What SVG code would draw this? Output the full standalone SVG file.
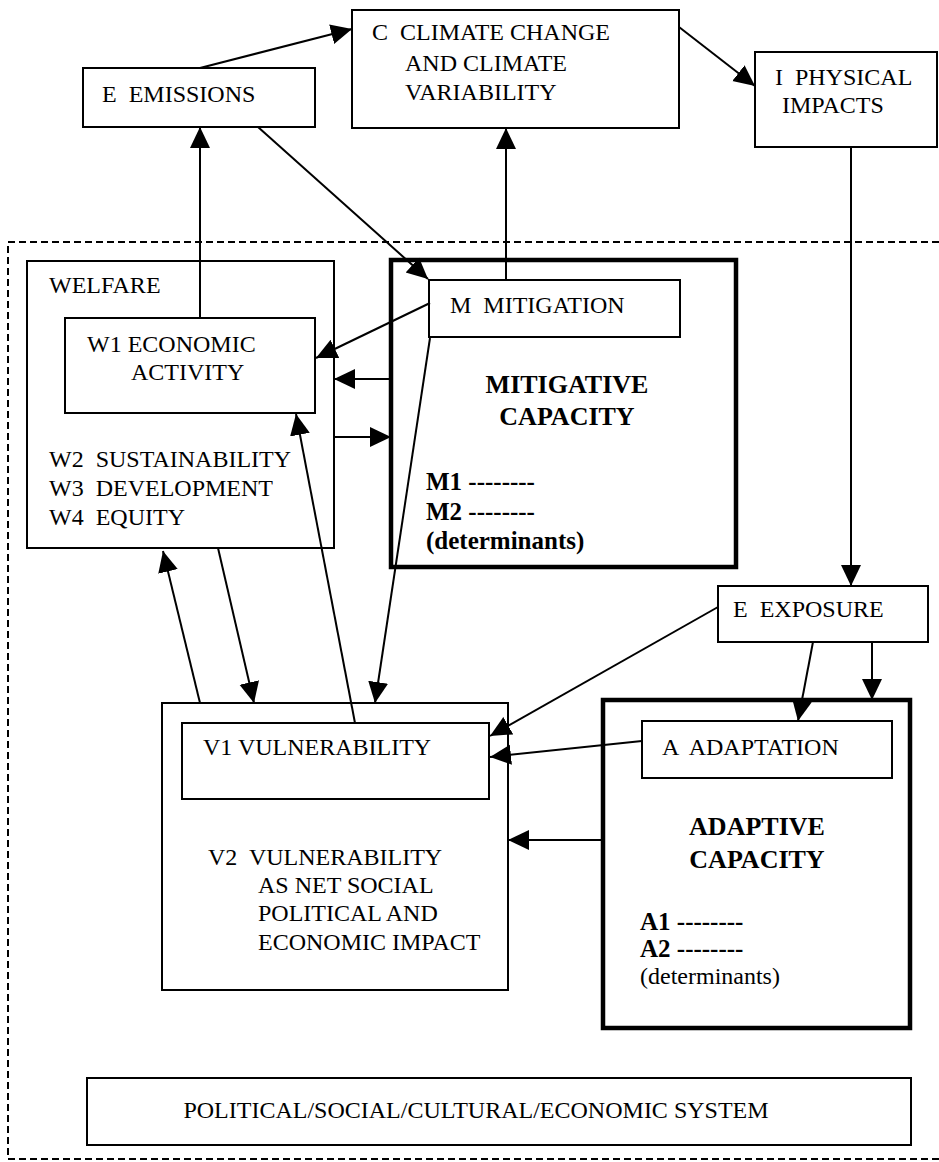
<svg xmlns="http://www.w3.org/2000/svg" width="939" height="1162" viewBox="0 0 939 1162" xml:space="preserve">
<defs>
<style>
text{white-space:pre}
.box{fill:none;stroke:#000;stroke-width:2}
.thick{fill:none;stroke:#000;stroke-width:4.5}
.t{font-family:"Liberation Serif","Times New Roman",serif;font-size:24px;fill:#000}
.b{font-family:"Liberation Serif","Times New Roman",serif;font-size:26px;font-weight:bold;fill:#000}
.bs{font-family:"Liberation Serif","Times New Roman",serif;font-size:25px;font-weight:bold;fill:#000}
.c{stroke:#000;stroke-width:2;fill:none;marker-end:url(#ah)}
.dash{fill:none;stroke:#000;stroke-width:2;stroke-dasharray:7 4}
</style>
<marker id="ah" markerUnits="userSpaceOnUse" markerWidth="22" markerHeight="22" refX="21" refY="11" orient="auto">
<path d="M0,1 L21,11 L0,21 Z" fill="#000"/>
</marker>
</defs>
<rect width="939" height="1162" fill="#fff"/>

<path id="boundary" class="dash" d="M939,242 H8 V1159 H939"/>

<g id="emissions">
<rect class="box" x="83" y="68" width="232" height="59"/>
<text class="t" x="102" y="102">E  EMISSIONS</text>
</g>

<g id="climate">
<rect class="box" x="352" y="10" width="327" height="118"/>
<text class="t" x="372" y="40">C  CLIMATE CHANGE</text>
<text class="t" x="405" y="71">AND CLIMATE</text>
<text class="t" x="405" y="100">VARIABILITY</text>
</g>

<g id="impacts">
<rect class="box" x="755" y="52" width="182" height="95"/>
<text class="t" x="775" y="85">I  PHYSICAL</text>
<text class="t" x="782" y="113">IMPACTS</text>
</g>

<g id="welfare">
<rect class="box" x="27" y="261" width="307" height="287"/>
<text class="t" x="49" y="293">WELFARE</text>
<text class="t" x="49" y="467">W2  SUSTAINABILITY</text>
<text class="t" x="49" y="496">W3  DEVELOPMENT</text>
<text class="t" x="49" y="525">W4  EQUITY</text>
</g>

<g id="w1">
<rect class="box" x="65" y="318" width="250" height="95"/>
<text class="t" x="87" y="352">W1 ECONOMIC</text>
<text class="t" x="131" y="380">ACTIVITY</text>
</g>

<g id="mitigative">
<rect class="thick" x="391" y="260" width="345" height="307"/>
<text class="b" x="567" y="393" text-anchor="middle">MITIGATIVE</text>
<text class="b" x="567" y="425" text-anchor="middle">CAPACITY</text>
<text class="bs" x="426" y="490">M1 --------</text>
<text class="bs" x="426" y="520">M2 --------</text>
<text class="bs" x="426" y="549">(determinants)</text>
</g>

<g id="mitigation">
<rect class="box" x="429" y="280" width="251" height="57"/>
<text class="t" x="450" y="313">M  MITIGATION</text>
</g>

<g id="exposure">
<rect class="box" x="718" y="586" width="210" height="56"/>
<text class="t" x="733" y="617">E  EXPOSURE</text>
</g>

<g id="vulnerability">
<rect class="box" x="162" y="703" width="346" height="287"/>
<text class="t" x="208" y="865">V2  VULNERABILITY</text>
<text class="t" x="258" y="893">AS NET SOCIAL</text>
<text class="t" x="258" y="921">POLITICAL AND</text>
<text class="t" x="258" y="950">ECONOMIC IMPACT</text>
</g>

<g id="v1">
<rect class="box" x="182" y="723" width="307" height="76"/>
<text class="t" x="203" y="755">V1 VULNERABILITY</text>
</g>

<g id="adaptive">
<rect class="thick" x="603" y="700" width="307" height="328"/>
<text class="b" x="757" y="835" text-anchor="middle">ADAPTIVE</text>
<text class="b" x="757" y="868" text-anchor="middle">CAPACITY</text>
<text class="bs" x="640" y="930">A1 --------</text>
<text class="bs" x="640" y="957">A2 --------</text>
<text class="t" x="640" y="984">(determinants)</text>
</g>

<g id="adaptation">
<rect class="box" x="642" y="721" width="250" height="57"/>
<text class="t" x="662" y="755">A  ADAPTATION</text>
</g>

<g id="system">
<rect class="box" x="87" y="1078" width="824" height="67"/>
<text class="t" x="476" y="1118" text-anchor="middle">POLITICAL/SOCIAL/CULTURAL/ECONOMIC SYSTEM</text>
</g>

<g id="connectors">
<path class="c" d="M200,68 L352,29"/>
<path class="c" d="M679,27 L755,86"/>
<path class="c" d="M200,318 L200,127"/>
<path class="c" d="M258,127 L428,279"/>
<path class="c" d="M506,280 L506,128"/>
<path class="c" d="M430,303 L316,358"/>
<path class="c" d="M391,379 L334,379"/>
<path class="c" d="M334,437 L391,437"/>
<path class="c" d="M430,338 L375,703"/>
<path class="c" d="M355,723 L296,414"/>
<path class="c" d="M218,548 L254,703"/>
<path class="c" d="M200,703 L163,551"/>
<path class="c" d="M851,147 L851,586"/>
<path class="c" d="M813,642 L798,721"/>
<path class="c" d="M872,642 L872,700"/>
<path class="c" d="M718,607 L490,736"/>
<path class="c" d="M642,741 L490,757"/>
<path class="c" d="M603,840 L508,840"/>
</g>
</svg>
